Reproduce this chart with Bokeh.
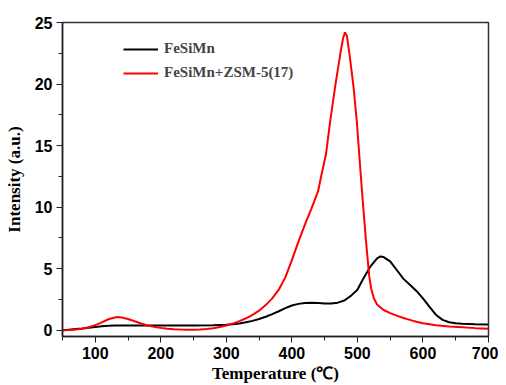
from bokeh.plotting import figure
from bokeh.models import FixedTicker, Range1d, Legend, LegendItem
from bokeh.embed import file_html
from bokeh.resources import INLINE

temp_fesimn = [50, 60, 70, 80, 90, 100, 110, 120, 130, 140, 160, 200, 250, 280, 300, 310, 320, 330,
               340, 350, 360, 370, 380, 390, 400, 410, 420, 430, 440, 450, 460, 470, 480, 490,
               500, 505, 510, 520, 530, 535, 540, 550, 560, 570, 580, 590, 600, 610, 620, 630, 640,
               650, 660, 680, 700]
int_fesimn = [0.0, 0.05, 0.1, 0.15, 0.22, 0.28, 0.33, 0.37, 0.39, 0.4, 0.4, 0.4, 0.4, 0.41, 0.45,
              0.5, 0.56, 0.65, 0.77, 0.92, 1.1, 1.32, 1.55, 1.8, 2.02, 2.15, 2.22, 2.24, 2.22, 2.18,
              2.18, 2.25, 2.42, 2.8, 3.3, 3.8, 4.3, 5.2, 5.85, 6.0, 5.95, 5.6, 4.9, 4.2, 3.7, 3.2,
              2.6, 1.9, 1.25, 0.85, 0.66, 0.58, 0.54, 0.5, 0.48]

temp_zsm = [50, 60, 70, 80, 90, 100, 110, 120, 130, 135, 140, 150, 160, 170, 180, 190, 200, 210,
            220, 230, 240, 250, 260, 270, 280, 290, 300, 310, 320, 330, 340, 350, 360, 370, 380,
            390, 400, 410, 420, 430, 440, 445, 452, 458, 466, 474, 478, 481, 484, 488, 494, 499,
            505, 508, 513, 518, 521, 525, 530, 540, 550, 560, 570, 580, 590, 600, 620, 640, 660,
            680, 700]
int_zsm = [0.0, 0.02, 0.06, 0.13, 0.25, 0.42, 0.65, 0.9, 1.05, 1.08, 1.05, 0.92, 0.74, 0.56, 0.4,
           0.28, 0.2, 0.13, 0.08, 0.06, 0.05, 0.05, 0.07, 0.1, 0.17, 0.27, 0.4, 0.55, 0.75, 0.98,
           1.25, 1.6, 2.05, 2.6, 3.3, 4.3, 5.7, 7.2, 8.6, 9.9, 11.3, 12.6, 14.3, 16.8, 19.8, 22.5,
           23.7, 24.2, 23.9, 22.4, 19.8, 17.0, 12.7, 10.6, 7.3, 4.4, 3.4, 2.6, 2.1, 1.65, 1.4,
           1.2, 1.0, 0.85, 0.7, 0.58, 0.42, 0.32, 0.25, 0.18, 0.13]

x_ticks = [100, 200, 300, 400, 500, 600, 700]
x_minor = [50, 150, 250, 350, 450, 550, 650]
y_ticks = [0, 5, 10, 15, 20, 25]
y_minor = [2.5, 7.5, 12.5, 17.5, 22.5]

p = figure(width=498, height=377, output_backend="svg", toolbar_location=None,
           x_range=Range1d(50, 700), y_range=Range1d(-0.5, 25),
           min_border_left=62, min_border_right=10, min_border_top=22, min_border_bottom=41)
p.frame_width = 426
p.frame_height = 314

r1 = p.line(temp_fesimn, int_fesimn, line_color="black", line_width=2)
r2 = p.line(temp_zsm, int_zsm, line_color="#ff0000", line_width=2)

p.grid.visible = False
p.outline_line_color = "#333333"
p.outline_line_width = 1.5

p.xaxis.ticker = FixedTicker(ticks=x_ticks, minor_ticks=x_minor)
p.yaxis.ticker = FixedTicker(ticks=y_ticks, minor_ticks=y_minor)

for ax in (p.xaxis[0], p.yaxis[0]):
    ax.axis_line_width = 1.5
    ax.axis_line_color = "#222222"
    ax.major_tick_in = 0
    ax.major_tick_out = 6
    ax.minor_tick_in = 0
    ax.minor_tick_out = 4
    ax.major_tick_line_color = "#222222"
    ax.minor_tick_line_color = "#222222"
    ax.major_label_text_font = "Liberation Sans"
    ax.major_label_text_font_style = "bold"
    ax.major_label_text_font_size = "16px"
    ax.major_label_text_color = "black"
    ax.axis_label_text_font = "Liberation Serif"
    ax.axis_label_text_font_style = "bold"
    ax.axis_label_text_font_size = "17px"
    ax.axis_label_text_color = "black"
    ax.major_label_standoff = 4

p.xaxis.axis_label = "Temperature (℃)"
p.yaxis.axis_label = "Intensity (a.u.)"
p.xaxis.axis_label_standoff = 2
p.yaxis.axis_label_standoff = 8

legend = Legend(items=[LegendItem(label="FeSiMn", renderers=[r1]),
                       LegendItem(label="FeSiMn+ZSM-5(17)", renderers=[r2])],
                location=(61, 255))
legend.border_line_color = None
legend.background_fill_alpha = 0
legend.padding = 0
legend.margin = 0
legend.glyph_width = 35
legend.glyph_height = 16
legend.label_height = 16
legend.spacing = 7
legend.label_standoff = 6
legend.label_text_font = "Liberation Serif"
legend.label_text_font_style = "bold"
legend.label_text_font_size = "15px"
p.add_layout(legend)

open("out.html", "w").write(file_html(p, INLINE))
